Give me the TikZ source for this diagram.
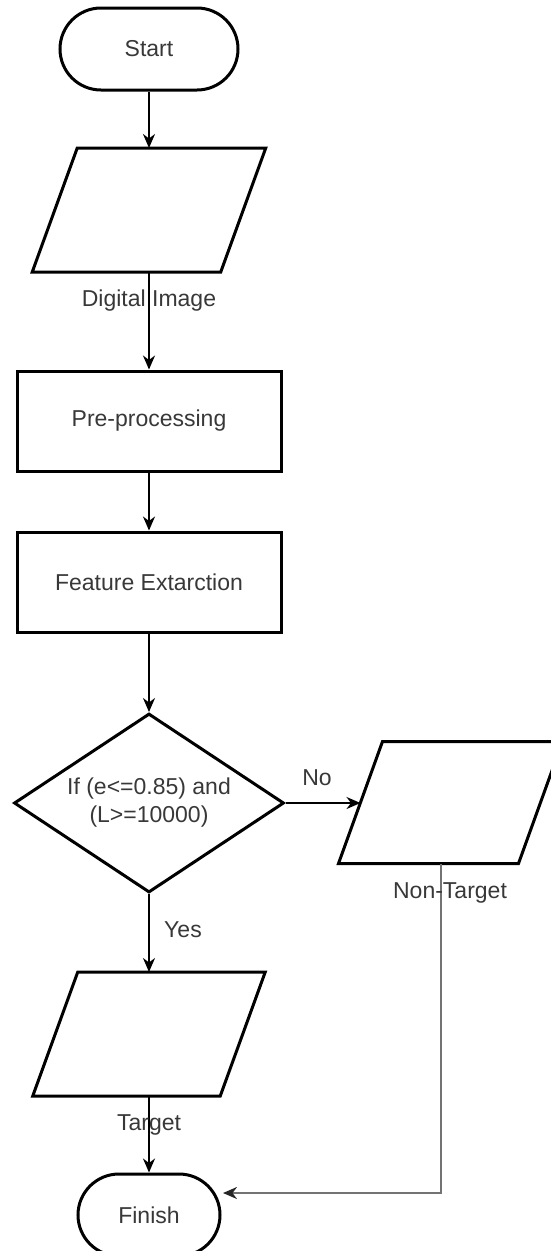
\documentclass[tikz,border=0pt]{standalone}
\usepackage{fontspec}
\setmainfont{Liberation Sans}
\usetikzlibrary{shapes.geometric,arrows.meta,calc}
\begin{document}
\begin{tikzpicture}[x=1pt,y=-1pt,
  txt/.style={text=black!78, font=\fontsize{23}{28}\selectfont, align=center, inner sep=0pt},
  term/.style={draw=black, line width=3pt, rounded corners=41pt, minimum height=82pt, inner sep=0pt, txt},
  proc/.style={draw=black, line width=3pt, minimum width=264pt, minimum height=100pt, inner sep=0pt, txt},
  dec/.style={draw=black, line width=3pt, diamond, aspect=1.5, minimum width=270pt, minimum height=179pt, inner sep=0pt, txt},
  iohold/.style={minimum height=121pt, inner sep=0pt, outer sep=1.5pt},
  para/.style={draw=black, line width=3pt, line join=miter},
  conn/.style={draw=black, line width=2pt, -{Stealth[length=14pt,width=12pt,inset=4.5pt]}},
  grayconn/.style={draw=black!55, line width=2.2pt, -{Stealth[length=14pt,width=12pt,inset=4.5pt,color=black!85,fill=black!85]}}]
\useasboundingbox (0,0) rectangle (551,1251);

% shapes
\node[term, minimum width=178pt] (start) at (149,49) {Start};

\node[iohold, minimum width=185.5pt] (di) at (149,210) {};
\draw[para] ([xshift=22.5pt]di.north west) -- ([xshift=22.5pt]di.north east)
  -- ([xshift=-22.5pt]di.south east) -- ([xshift=-22.5pt]di.south west) -- cycle;

\node[proc] (pre) at (149,421) {Pre-processing};
\node[proc] (fe) at (149,582) {Feature Extarction};

\node[dec] (dec) at (149,803) {If (e<=0.85) and\\(L>=10000)};

\node[iohold, minimum width=177pt, minimum height=119pt] (nt) at (450.5,802.5) {};
\draw[para] ([xshift=22pt]nt.north west) -- ([xshift=22pt]nt.north east)
  -- ([xshift=-22pt]nt.south east) -- ([xshift=-22pt]nt.south west) -- cycle;

\node[iohold, minimum width=184.5pt] (tg) at (149,1034) {};
\draw[para] ([xshift=22.5pt]tg.north west) -- ([xshift=22.5pt]tg.north east)
  -- ([xshift=-22.5pt]tg.south east) -- ([xshift=-22.5pt]tg.south west) -- cycle;

\node[term, minimum width=142pt] (fin) at (149,1215) {Finish};

% connectors
\draw[conn] (start.south) -- (di.north);
\draw[conn] (di.south) -- (pre.north);
\draw[conn] (pre.south) -- (fe.north);
\draw[conn] (fe.south) -- (dec.north);
\draw[conn] (dec.east) -- (dec.east -| nt.west);
\draw[conn] (dec.south) -- (tg.north);
\draw[conn] (tg.south) -- (fin.north);
\coordinate (bend) at (441,1193);
\coordinate (finin) at (223,1193);
\draw[grayconn] ([xshift=-9.5pt]nt.south) -- (bend) -- (finin);

% labels
\node[txt] (lbdi) at (149,301) {Digital Image};
\node[txt] (lbnt) at (450,893) {Non-Target};
\node[txt] (lbtg) at (149,1125) {Target};
\node[txt] (lbno) at (317,778) {No};
\node[txt] (lbyes) at (183,930) {Yes};
\end{tikzpicture}
\end{document}
